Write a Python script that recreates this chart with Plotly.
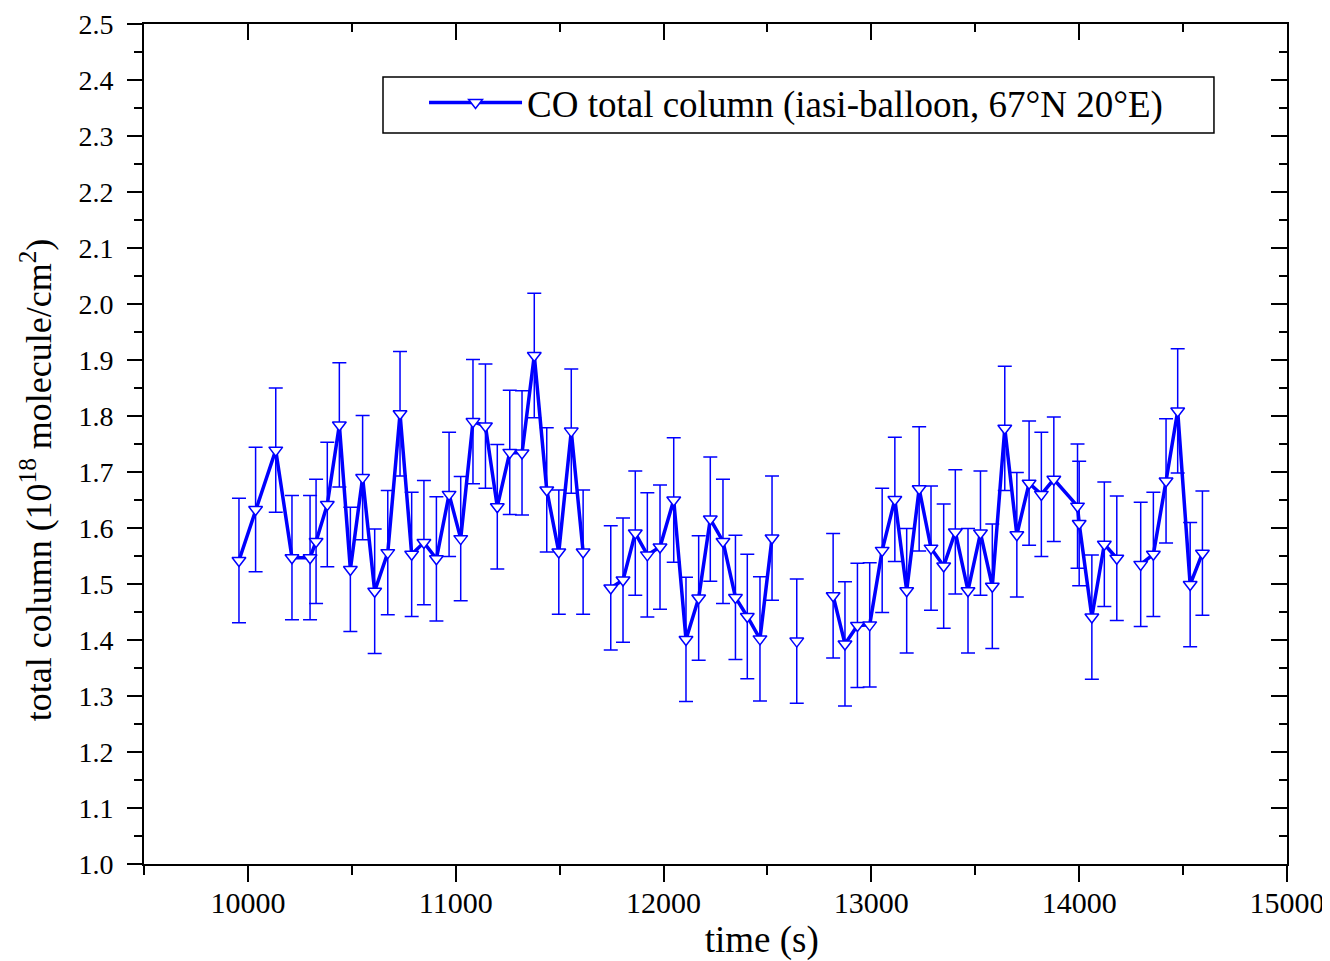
import plotly.graph_objects as go

# time (s); None entries mark gaps in the record (line breaks)
time_s = [9957, 10037, 10134, 10212, 10299, 10328, 10382, 10440, 10493, 10552,
          10610, 10673, 10732, 10788, 10847, 10907, 10968, 11024, 11083, 11143,
          11200, 11260, 11319, 11378, 11438, 11496, 11556, 11613, 11680,
          11746, 11805, 11864, 11922, 11983, 12049, 12108, 12169, 12225, 12286,
          12346, 12403, 12464, 12522, 12580, 12641, 12730,
          12816, 12873, 12933, 12992, 13052, 13113, 13170, 13230, 13287, 13348,
          13404, 13465, 13525, 13582, 13642, 13700, 13759, 13818, 13878, 13992,
          14000, 14061, 14121, 14181, 14240,
          14296, 14357, 14418, 14474, 14534, 14593]

co_column = [1.542, 1.633, 1.739, 1.547, 1.547, 1.576, 1.642, 1.784, 1.526, 1.690,
             1.487, 1.556, 1.804, 1.553, 1.574, 1.545, 1.660, 1.581, 1.790, 1.782,
             1.638, 1.735, 1.734, 1.908, 1.668, 1.557, 1.773, 1.557, None,
             1.493, 1.507, 1.591, 1.552, 1.566, 1.650, 1.401, 1.475, 1.616, 1.576,
             1.476, 1.442, 1.402, 1.582, None, 1.398, None,
             1.479, 1.393, 1.426, 1.427, 1.560, 1.651, 1.488, 1.670, 1.564, 1.532,
             1.593, 1.488, 1.591, 1.496, 1.778, 1.588, 1.680, 1.660, 1.687, 1.639,
             1.608, 1.441, 1.571, 1.546, None,
             1.535, 1.553, 1.684, 1.809, 1.499, 1.555]

error_value = 0.111

series_name = "CO total column (iasi-balloon, 67°N 20°E)"
x_title = "time (s)"
y_title = "total column (10<sup>18</sup> molecule/cm<sup>2</sup>)"

BLUE = "#0000FF"
FONT = "Liberation Serif"
EM = "\u2003"
EN = "\u2002"
ZW = "\u200b"  # zero-width guard so padding spaces are kept

fig = go.Figure()
fig.add_trace(go.Scatter(
    x=time_s, y=co_column, mode="lines+markers", name=series_name,
    line=dict(color=BLUE, width=3.5),
    marker=dict(symbol="triangle-down", size=12, color="white",
                line=dict(color=BLUE, width=1.5)),
    error_y=dict(type="constant", value=error_value, color=BLUE,
                 thickness=1.5, width=7),
    connectgaps=False,
))
# empty trace to carry the mirrored (top/right) axes
fig.add_trace(go.Scatter(x=[], y=[], xaxis="x2", yaxis="y2",
                         showlegend=False, hoverinfo="skip"))

axis_common = dict(showgrid=False, zeroline=False, showline=True,
                   linecolor="black", linewidth=2, tickcolor="black",
                   tickwidth=2, automargin=False)

# the page body adds an 8 px offset, so the figure is 8 px smaller
fig.update_layout(
    width=1322, height=953,
    margin=dict(l=136, r=43, t=16, b=97),
    paper_bgcolor="white", plot_bgcolor="white",
    font=dict(family=FONT, color="black"),
    xaxis=dict(range=[9500, 15000], dtick=1000, tick0=10000, ticks="outside",
               ticklen=16, tickformat="d", ticklabelstandoff=-5,
               minor=dict(dtick=500, tick0=9500, ticks="outside", ticklen=9,
                          tickwidth=2, tickcolor="black"),
               tickfont=dict(size=30, family=FONT),
               title=dict(text=ZW + EM + EM + EN + x_title,
                          font=dict(size=37, family=FONT), standoff=14),
               **axis_common),
    yaxis=dict(range=[1.0, 2.5], dtick=0.1, tick0=1.0, ticks="outside",
               ticklen=15, tickformat=".1f", ticklabelstandoff=8,
               minor=dict(dtick=0.05, ticks="outside", ticklen=8,
                          tickwidth=2, tickcolor="black"),
               tickfont=dict(size=28, family=FONT),
               title=dict(text=y_title + EM + EM + ZW,
                          font=dict(size=36, family=FONT), standoff=16),
               **axis_common),
    xaxis2=dict(range=[9500, 15000], dtick=1000, tick0=10000, ticks="inside",
                ticklen=16, overlaying="x", side="top", showticklabels=False,
                minor=dict(dtick=500, tick0=9500, ticks="inside", ticklen=8,
                           tickwidth=2, tickcolor="black"),
                **axis_common),
    yaxis2=dict(range=[1.0, 2.5], dtick=0.1, tick0=1.0, ticks="inside",
                ticklen=16, overlaying="y", side="right", showticklabels=False,
                minor=dict(dtick=0.05, ticks="inside", ticklen=8,
                           tickwidth=2, tickcolor="black"),
                **axis_common),
    legend=dict(x=0.245, y=0.906, xanchor="left", yanchor="middle",
                bgcolor="rgba(0,0,0,0)", borderwidth=0,
                font=dict(size=37, family=FONT), itemwidth=93,
                tracegroupgap=0),
    showlegend=True,
    shapes=[dict(type="rect", xref="paper", yref="paper",
                 x0=0.2091, x1=0.9361, y0=0.8702, y1=0.9369,
                 line=dict(color="black", width=1.5), fillcolor="white",
                 layer="above")],
)

fig.write_html("out.html")
